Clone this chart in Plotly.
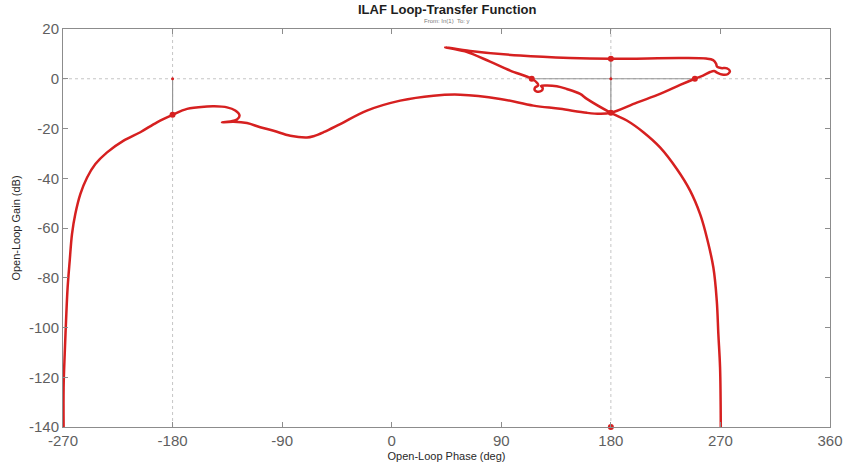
import plotly.graph_objects as go

# Open-loop frequency response (phase in degrees, gain in dB), ordered along frequency
phase_deg = [
    -269.5, -269.5, -268.6, -267.5, -266.2, -264.5, -262.6, -259.9, -255.7, -250.2,
    -243.4, -233.8, -220.2, -206.5, -192.8, -180.0, -168.1, -151.7, -146.3, -135.3,
    -128.5, -125.0, -127.1, -132.6, -139.4, -129.9, -118.9, -108.0, -97.0, -83.3,
    -69.6, -64.2, -56.0, -42.3, -20.4, 7.0, 34.3, 56.2, 89.1, 116.4,
    138.3, 160.3, 171.2, 180.0, 201.3, 220.4, 236.9, 249.0, 255.7, 261.5, 264.8,
    267.2, 271.3, 276.2, 277.8, 275.4, 270.4, 267.2, 266.4, 264.0, 258.2,
    236.9, 180.0, 146.5, 105.5, 64.4, 43.9, 60.2, 80.8, 97.3, 115.0,
    119.5, 120.3, 117.8, 117.4, 119.5, 123.2, 124.0, 122.7, 126.8, 135.6,
    143.8, 154.8, 160.3, 180.0, 193.1, 206.7, 220.4, 234.2, 245.1, 253.3,
    257.4, 264.2, 267.0, 268.3, 269.7, 270.3,
]
gain_db = [
    -140.0, -124.2, -110.7, -97.3, -83.9, -73.2, -62.4, -54.4, -46.3, -39.7,
    -34.3, -29.6, -24.9, -21.5, -17.5, -14.5, -12.1, -11.2, -11.1, -11.5,
    -12.8, -14.8, -16.4, -17.2, -17.5, -17.3, -17.8, -19.5, -20.9, -22.9,
    -23.6, -23.1, -21.5, -18.2, -12.8, -8.8, -6.8, -6.4, -8.1, -10.8,
    -12.1, -13.7, -14.1, -13.7, -9.6, -6.1, -2.5, 0.0, 1.3, 2.7, 3.1,
    2.5, 1.7, 1.9, 3.1, 4.2, 4.3, 4.9, 6.1, 7.5, 8.1,
    8.3, 8.0, 8.3, 9.3, 11.2, 12.7, 11.0, 6.9, 3.3, 0.0,
    -1.7, -2.7, -3.5, -4.5, -5.2, -4.8, -3.7, -2.9, -2.7, -3.0,
    -4.1, -6.1, -8.1, -13.7, -16.8, -21.5, -27.6, -36.3, -45.0, -54.4,
    -61.1, -75.9, -89.3, -102.7, -116.1, -140.0,
]

# Stability-margin points on the curve
margin_phase = [-180.0, 180.0, 249.0, 180.0, 115.0]
margin_gain = [-14.5, -13.7, 0.0, 8.0, 0.0]

# Critical points (-180 + k*360, 0 dB) and the bottom-edge gain-margin point
critical_phase = [-180.0, 180.0]
critical_gain = [0.0, 0.0]
edge_phase = [180.0]
edge_gain = [-140.0]

# Margin guide segments: (phase0, gain0, phase1, gain1)
gain_margin_lines = [(-180.0, 0.0, -180.0, -14.5), (180.0, 8.0, 180.0, -13.7)]
phase_margin_lines = [(115.0, 0.0, 249.0, 0.0)]

x_ticks = [-270, -180, -90, 0, 90, 180, 270, 360]
y_ticks = [20, 0, -20, -40, -60, -80, -100, -120, -140]
x_range = [-270, 360]
y_range = [-140, 20]

RED = "rgb(214,32,32)"
GUIDE = "rgb(150,150,150)"
GRID = "rgb(190,190,190)"
FONT = "Liberation Sans, Arial, sans-serif"

fig = go.Figure()

# Nichols grid: 0 dB line and the -180 / 180 degree lines
for p in (-180, 180):
    fig.add_shape(type="line", x0=p, x1=p, y0=y_range[0], y1=y_range[1],
                  line=dict(color=GRID, width=0.9, dash="dot"), layer="below")
fig.add_shape(type="line", x0=x_range[0], x1=x_range[1], y0=0, y1=0,
              line=dict(color=GRID, width=0.9, dash="dot"), layer="below")

for x0, y0, x1, y1 in gain_margin_lines + phase_margin_lines:
    fig.add_shape(type="line", x0=x0, x1=x1, y0=y0, y1=y1,
                  line=dict(color=GUIDE, width=1.2), layer="below")

fig.add_trace(go.Scatter(
    x=phase_deg, y=gain_db, mode="lines",
    line=dict(color=RED, width=2.5, shape="spline", smoothing=1.0),
    hoverinfo="skip", showlegend=False,
))
fig.add_trace(go.Scatter(
    x=margin_phase, y=margin_gain, mode="markers",
    marker=dict(color=RED, size=6), showlegend=False,
))
fig.add_trace(go.Scatter(
    x=critical_phase, y=critical_gain, mode="markers",
    marker=dict(color=RED, size=3), showlegend=False,
))
fig.add_trace(go.Scatter(
    x=edge_phase, y=edge_gain, mode="markers",
    marker=dict(color=RED, size=6), showlegend=False, cliponaxis=False,
))

axis_common = dict(
    showline=True, linecolor="rgb(140,140,140)", linewidth=1, mirror="allticks",
    ticks="inside", ticklen=5, tickcolor="rgb(140,140,140)",
    showgrid=False, zeroline=False, automargin=False,
    tickfont=dict(family=FONT, size=15, color="rgb(95,95,95)"),
)

fig.update_xaxes(range=x_range, tickvals=x_ticks, ticktext=[str(v) for v in x_ticks],
                 title=dict(text="Open-Loop Phase (deg)", standoff=4,
                            font=dict(family=FONT, size=11, color="rgb(40,40,40)")),
                 **axis_common)
fig.update_yaxes(range=y_range, tickvals=y_ticks, ticktext=[str(v) for v in y_ticks],
                 title=dict(text="Open-Loop Gain (dB)", standoff=6,
                            font=dict(family=FONT, size=11, color="rgb(40,40,40)")),
                 **axis_common)

fig.add_annotation(text="<b>ILAF Loop-Transfer Function</b>", xref="paper", yref="paper",
                   x=0.5, y=1, yshift=20, showarrow=False, xanchor="center", yanchor="middle",
                   font=dict(family=FONT, size=13, color="rgb(30,30,30)"))
fig.add_annotation(text="From: In(1)  To: y", xref="paper", yref="paper",
                   x=0.5, y=1, yshift=8, showarrow=False, xanchor="center", yanchor="middle",
                   font=dict(family=FONT, size=6, color="rgb(120,120,120)"))

fig.update_layout(
    width=847, height=471,
    margin=dict(l=63, r=17, t=29, b=44),
    paper_bgcolor="white", plot_bgcolor="white",
    showlegend=False,
)

fig.write_html("out.html")
